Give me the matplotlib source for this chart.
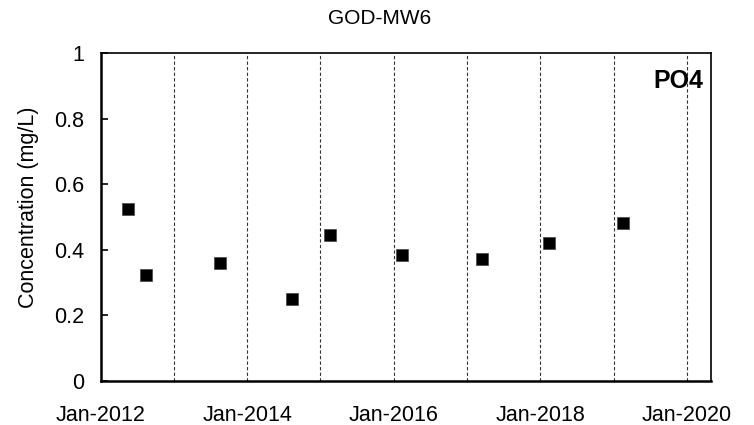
import matplotlib
matplotlib.use("Agg")
import matplotlib.pyplot as plt
import matplotlib.dates as mdates
import numpy as np
from datetime import datetime

plt.rcParams['font.family'] = ['Liberation Sans', 'DejaVu Sans']

# Data
sample_dates = ['2012-05-18', '2012-08-16', '2013-08-18', '2014-08-10', '2015-02-16',
                '2016-02-09', '2017-03-14', '2018-02-13', '2019-02-16']
po4_values = [0.523, 0.323, 0.361, 0.250, 0.445, 0.384, 0.372, 0.421, 0.481]
title_text = 'GOD-MW6'
ylabel_text = 'Concentration (mg/L)'
analyte_label = 'PO4'
grid_years = [2013, 2014, 2015, 2016, 2017, 2018, 2019, 2020]
label_years = [2012, 2014, 2016, 2018, 2020]
y_ticks = [0, 0.2, 0.4, 0.6, 0.8, 1.0]
y_tick_labels = ['0', '0.2', '0.4', '0.6', '0.8', '1']

dates = [datetime.strptime(d, '%Y-%m-%d') for d in sample_dates]

fig = plt.figure(figsize=(7.54, 4.25), dpi=100)
ax = fig.add_axes([100.5/754, 1-381/425, (711-100.5)/754, (381-53)/425])

for yr in grid_years:
    ax.axvline(datetime(yr, 1, 1), color='#333333', lw=0.8, ls=(0, (3, 2)), zorder=1)

ax.plot(dates, po4_values, ls='none', marker='s', ms=9.2, color='black',
        markeredgecolor='#444444', markeredgewidth=0.5, zorder=3)

ax.set_xlim(datetime(2012, 1, 1), datetime(2020, 4, 30))
ax.set_ylim(0, 1)
ax.set_xticks([datetime(y, 1, 1) for y in label_years])
ax.xaxis.set_major_formatter(mdates.DateFormatter('Jan-%Y'))
ax.set_yticks(y_ticks)
ax.set_yticklabels(y_tick_labels)

ax.tick_params(axis='x', length=0, pad=17, labelsize=15.5)
ax.tick_params(axis='y', direction='in', length=5, width=1.2, pad=12, labelsize=15.5)

for s in ['left', 'bottom']:
    ax.spines[s].set_linewidth(1.8)
for s in ['top', 'right']:
    ax.spines[s].set_linewidth(1.2)

ax.set_ylabel(ylabel_text, fontsize=15.5, labelpad=8)
ax.yaxis.set_label_coords(-0.1, 0.53)

fig.text(0.503, 1 - 19/425, title_text, ha='center', va='center', fontsize=15)

ax.text((703-100.5)/(711-100.5), (381-88.3)/328, analyte_label, transform=ax.transAxes,
        ha='right', va='baseline', fontsize=18, fontweight='bold', zorder=4)

fig.savefig('out.png', dpi=100)
